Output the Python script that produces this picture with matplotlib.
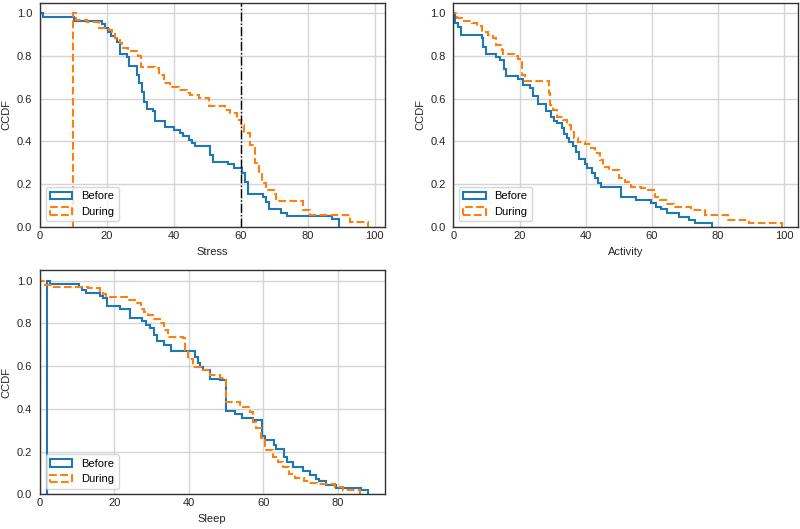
import numpy as np
import matplotlib
matplotlib.use("Agg")
import matplotlib.pyplot as plt

# ---- Data: step edges (x) and CCDF level on each step ----
stress_before_edges = [0, 0.9, 10.2, 18.6, 19.3, 20.3, 21.3, 22.3, 23.1, 23.8, 26.0, 26.7, 28.9, 29.5,
                       30.5, 31.2, 32.0, 33.7, 34.4, 37.2, 39.9, 41.9, 42.7, 44.4, 45.4, 46.4, 50.7,
                       51.7, 56.1, 57.8, 60.3, 61.1, 62.1, 66.5, 67.5, 68.5, 72.1, 73.8, 87.3, 89.2]
stress_before_ccdf = [1.0, 0.985, 0.963, 0.95, 0.93, 0.914, 0.895, 0.883, 0.867, 0.81, 0.797, 0.753,
                      0.711, 0.672, 0.63, 0.586, 0.552, 0.542, 0.495, 0.469, 0.453, 0.441, 0.425,
                      0.406, 0.394, 0.378, 0.336, 0.305, 0.292, 0.277, 0.25, 0.211, 0.156, 0.141,
                      0.117, 0.083, 0.067, 0.052, 0.036]
stress_during_edges = [9.9, 10.8, 13.9, 17.5, 20.5, 21.5, 22.5, 23.8, 24.5, 26.4, 29.4, 30.2, 34.4,
                       35.4, 36.9, 38.9, 41.4, 43.9, 44.9, 47.4, 50.4, 55.3, 56.8, 58.8, 60.1, 60.8,
                       62.8, 64.1, 65.3, 66.3, 67.6, 69.8, 70.5, 78.5, 80.5, 92.7, 98.0]
stress_during_ccdf = [1.0, 0.969, 0.958, 0.93, 0.922, 0.906, 0.883, 0.86, 0.836, 0.822, 0.80, 0.75,
                      0.742, 0.711, 0.672, 0.656, 0.641, 0.625, 0.617, 0.605, 0.567, 0.547, 0.531,
                      0.50, 0.477, 0.438, 0.383, 0.297, 0.25, 0.203, 0.172, 0.156, 0.12, 0.078,
                      0.055, 0.023]

activity_before_edges = [0, 0.6, 1.5, 2.2, 8.5, 9.0, 9.8, 13.0, 14.0, 15.4, 16.0, 19.6, 21.1, 23.1,
                         24.1, 25.6, 28.1, 29.6, 30.4, 31.2, 32.7, 33.4, 34.2, 35.0, 36.2, 36.9, 37.9,
                         39.7, 40.4, 41.9, 42.9, 43.7, 44.7, 50.8, 55.3, 59.8, 61.3, 62.8, 64.5, 68.3,
                         71.3, 73.1, 78.1]
activity_before_ccdf = [1.0, 0.953, 0.937, 0.90, 0.885, 0.844, 0.81, 0.797, 0.78, 0.737, 0.706, 0.692,
                        0.664, 0.648, 0.614, 0.573, 0.542, 0.516, 0.497, 0.484, 0.464, 0.437, 0.415,
                        0.398, 0.38, 0.352, 0.32, 0.292, 0.274, 0.25, 0.227, 0.203, 0.1875, 0.141,
                        0.125, 0.11, 0.094, 0.083, 0.067, 0.047, 0.031, 0.016]
activity_during_edges = [0, 1.0, 2.5, 5.5, 7.2, 8.5, 10.5, 12.0, 12.8, 14.6, 15.1, 18.6, 19.6, 20.6,
                         21.6, 28.8, 29.3, 30.2, 31.2, 33.2, 34.4, 35.4, 36.4, 37.7, 39.7, 41.7, 42.7,
                         44.2, 45.2, 47.0, 50.0, 51.8, 53.8, 56.8, 58.8, 60.8, 62.3, 64.3, 66.8, 71.9,
                         75.9, 83.0, 89.4, 99.2]
activity_during_ccdf = [1.0, 0.977, 0.966, 0.953, 0.94, 0.914, 0.90, 0.883, 0.85, 0.83, 0.81, 0.80,
                        0.784, 0.71, 0.684, 0.625, 0.57, 0.547, 0.516, 0.50, 0.477, 0.445, 0.414,
                        0.398, 0.386, 0.367, 0.344, 0.313, 0.281, 0.266, 0.227, 0.211, 0.1875, 0.18,
                        0.172, 0.141, 0.125, 0.109, 0.094, 0.078, 0.055, 0.031, 0.016]

sleep_before_edges = [1.8, 2.7, 10.5, 11.2, 12.3, 16.1, 16.8, 18.0, 21.4, 24.1, 27.5, 28.4, 29.5,
                      30.7, 31.3, 33.3, 35.3, 41.5, 42.4, 42.9, 43.8, 45.6, 48.3, 50.0, 52.3, 54.2,
                      57.2, 59.7, 60.5, 62.7, 63.4, 65.5, 66.2, 68.0, 70.6, 72.5, 74.2, 75.0, 76.7,
                      79.5, 86.2, 88.1]
sleep_before_ccdf = [1.0, 0.986, 0.973, 0.958, 0.942, 0.93, 0.92, 0.88, 0.867, 0.825, 0.81, 0.794,
                     0.778, 0.747, 0.716, 0.70, 0.672, 0.645, 0.614, 0.598, 0.583, 0.539, 0.533,
                     0.39, 0.375, 0.358, 0.348, 0.273, 0.256, 0.23, 0.21, 0.176, 0.153, 0.128,
                     0.108, 0.09, 0.072, 0.06, 0.044, 0.031, 0.02]
sleep_during_edges = [0, 1.3, 3.2, 12.9, 16.0, 16.9, 17.8, 23.4, 25.8, 27.0, 28.0, 29.1, 30.3, 32.2,
                      33.3, 34.4, 38.4, 38.8, 39.8, 41.0, 43.3, 45.6, 48.3, 50.0, 53.8, 56.3, 57.2,
                      58.1, 59.3, 60.3, 62.5, 64.0, 65.2, 66.8, 68.4, 71.0, 72.2, 74.4, 79.2, 81.3,
                      85.9]
sleep_during_ccdf = [1.0, 0.98, 0.972, 0.967, 0.953, 0.94, 0.925, 0.912, 0.898, 0.87, 0.855, 0.839,
                     0.823, 0.80, 0.769, 0.737, 0.73, 0.675, 0.636, 0.595, 0.583, 0.559, 0.544,
                     0.433, 0.41, 0.385, 0.34, 0.31, 0.263, 0.208, 0.177, 0.153, 0.13, 0.095,
                     0.075, 0.0625, 0.055, 0.047, 0.036, 0.02]

variables = ["Stress", "Activity", "Sleep"]
series_labels = ["Before", "During"]
stress_threshold = 60

panels = [
    ("Stress", stress_before_edges, stress_before_ccdf, stress_during_edges, stress_during_ccdf),
    ("Activity", activity_before_edges, activity_before_ccdf, activity_during_edges, activity_during_ccdf),
    ("Sleep", sleep_before_edges, sleep_before_ccdf, sleep_during_edges, sleep_during_ccdf),
]

plt.rcParams.update({
    "font.family": ["Liberation Sans", "DejaVu Sans"],
    "font.size": 8,
    "axes.edgecolor": "#333333",
    "axes.linewidth": 1.0,
    "axes.labelcolor": "#262626",
    "xtick.color": "#262626",
    "ytick.color": "#262626",
    "xtick.major.size": 0,
    "ytick.major.size": 0,
    "xtick.major.pad": 3,
    "ytick.major.pad": 5.5,
    "grid.color": "#d5d5d5",
    "grid.linewidth": 1.0,
})

fig, axes = plt.subplots(2, 2, figsize=(8, 5.29), dpi=100)
fig.subplots_adjust(left=0.05, right=0.9975, top=0.995, bottom=0.0656, wspace=0.2, hspace=0.193)
axes[1, 1].remove()
ax_list = [axes[0, 0], axes[0, 1], axes[1, 0]]

for ax, (name, be, bc, de, dc) in zip(ax_list, panels):
    be = np.asarray(be); bc = np.asarray(bc)
    de = np.asarray(de); dc = np.asarray(dc)
    ax.hist(be[:-1], bins=be, weights=bc, histtype="step", color="#1f77b4",
            linewidth=1.5, label=series_labels[0])
    ax.hist(de[:-1], bins=de, weights=dc, histtype="step", color="#ff7f0e",
            linewidth=1.5, linestyle="--", label=series_labels[1])
    ax.set_axisbelow(True)
    ax.grid(True)
    ax.set_ylim(0, 1.05)
    ax.set_xlim(left=0)
    ax.set_xlabel(name)
    ax.set_ylabel("CCDF")
    if name == "Stress":
        ax.axvline(stress_threshold, color="black", linestyle="-.", linewidth=1.0)
    ax.legend(loc="lower left", frameon=True, edgecolor="#cccccc", framealpha=0.8)

fig.savefig("out.png", dpi=100)
